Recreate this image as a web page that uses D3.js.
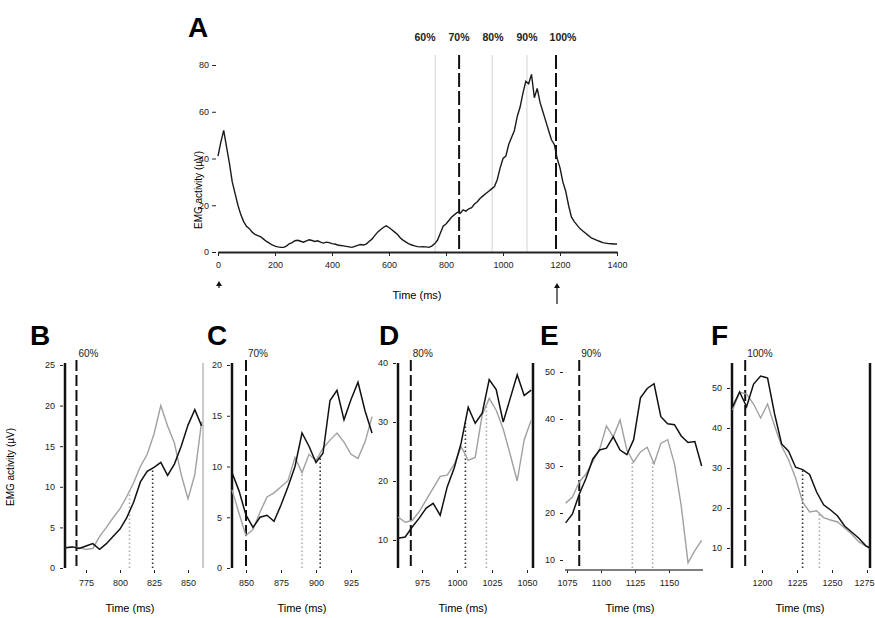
<!DOCTYPE html>
<html>
<head>
<meta charset="utf-8">
<script src="https://cdn.jsdelivr.net/npm/d3@7"></script>
<style>
  body { margin: 0; background: #fff; }
  svg { display: block; font-family: "Liberation Sans", Arial, sans-serif; }
  .axis text { font-size: 9px; fill: #222; }
  .axis line, .axis path { stroke: #222; }
</style>
</head>
<body>
<div id="chart"></div>
<script>
// ---- data: panel A (mean EMG over the whole movement) ----
const timeA = [0,10,20,30,40,50,60,70,80,90,100,110,120,130,140,150,160,170,180,190,
  200,210,220,230,240,250,260,270,280,290,300,310,320,330,340,350,360,370,380,390,
  400,410,420,430,440,450,460,470,480,490,500,510,520,530,540,550,560,570,580,590,
  600,610,620,630,640,650,660,670,680,690,700,710,720,730,740,750,760,770,780,790,
  800,810,820,830,840,850,860,870,880,890,900,910,920,930,940,950,960,970,980,990,
  1000,1010,1020,1030,1040,1050,1060,1070,1080,1090,1100,1110,1120,1130,1140,1150,1160,1170,1180,1190,
  1200,1210,1220,1230,1240,1250,1260,1270,1280,1290,1300,1310,1320,1330,1340,1350,1360,1370,1380,1390,1400];
const emgA = [41,47,52,45,38,30,25,20,16,13,11,10,8.5,7.5,7,6.5,5.5,4.5,3.8,3,
  2.5,2.2,2,2,2.5,3.5,4,4.8,5,4.6,4.2,4.8,5.2,4.9,4.5,4.8,4.2,3.8,4.2,4,
  3.6,3.4,3,2.8,2.6,2.4,2.2,2,2.4,2.8,3.2,3,3.4,4.5,5.5,7,8.5,9.5,10.5,11.2,
  10.5,9.5,8.5,7.5,6,5,4.2,3.5,3,2.6,2.3,2.2,2.3,2.2,2,2.5,3.5,5,8,11,
  12,13.5,15,16,17,16.5,18,17.5,18.5,19,20.5,21.5,23,24,25,26,27,28,31,36,
  40,41,46,49,52,58,62,68,73,72,76,66,70,64,60,56,52,48,46,40,
  36,30,26,20,15,13,11.5,10,9,8,7,6,5.5,5,4.5,4,3.8,3.6,3.5,3.4,3.4];
const xTicksA = [0,200,400,600,800,1000,1200,1400];
const yTicksA = [0,20,40,60,80];
const pctLabels = ["60%","70%","80%","90%","100%"];
const pctTimesA = [762,846,962,1084,1186];
const pctStyleA = ["light","dash","light","light","dash"];

// ---- data: panels B-F (zoomed windows, two traces) ----
const timeB  = [760,765,770,775,780,785,790,795,800,805,810,815,820,825,830,835,840,845,850,855,860];
const blackB = [2.5,2.6,2.4,2.7,3.0,2.3,3.0,3.9,4.8,6.2,8.1,10.6,11.9,12.4,13.0,11.4,12.8,15.0,17.6,19.5,17.5];
const greyB  = [2.5,2.6,2.5,2.3,2.4,3.9,5.0,6.2,7.3,8.8,10.5,12.5,14.0,16.5,20.0,17.5,15.4,11.5,8.5,11.5,18.0];

const timeC  = [840,845,850,855,860,865,870,875,880,885,890,895,900,905,910,915,920,925,930,935,940];
const blackC = [9.4,7.6,5.2,4.0,5.0,5.2,4.6,6.2,8.0,10.0,13.3,12.0,10.4,11.3,16.5,17.5,14.6,16.6,18.3,15.5,13.3];
const greyC  = [7.7,5.4,3.2,3.8,5.5,7.0,7.4,8.0,8.6,10.9,9.4,11.2,10.6,11.8,12.6,13.3,12.4,11.2,10.8,12.4,14.9];

const timeD  = [958,963,968,973,978,983,988,993,998,1003,1008,1013,1018,1023,1028,1033,1038,1043,1048,1053];
const blackD = [10.3,10.5,12.2,13.7,15.4,16.2,14.2,19.0,22.2,26.5,32.5,29.8,31.5,37.2,35.5,30.0,34.0,38.0,34.5,35.4];
const greyD  = [13.9,13.0,13.3,14.8,16.8,18.8,20.8,21.0,22.8,25.8,23.5,24.0,31.2,34.0,32.0,28.8,24.5,20.0,27.0,30.3];

const timeE  = [1074,1079,1084,1089,1094,1099,1104,1109,1114,1119,1124,1129,1134,1139,1144,1149,1154,1159,1164,1169,1174];
const blackE = [17.9,19.8,24.0,27.4,31.5,33.4,33.8,36.2,33.4,32.4,35.6,44.5,46.5,47.5,40.5,39.0,38.8,36.4,35.0,35.2,30.0];
const greyE  = [22.1,23.4,26.6,28.3,31.0,33.6,38.5,36.2,39.8,33.4,30.8,33.0,34.0,30.5,34.8,35.6,30.5,21.5,9.4,12.0,14.2];

const timeF  = [1179,1184,1189,1194,1199,1204,1209,1214,1219,1224,1229,1234,1239,1244,1249,1254,1259,1264,1269,1274,1277];
const blackF = [45.3,49.0,45.3,51.0,53.0,52.5,43.5,36.0,34.2,30.2,29.6,28.4,24.0,20.8,19.5,18.0,15.5,14.0,12.5,10.6,10.0];
const greyF  = [44.5,49.0,48.5,46.0,42.5,46.0,40.5,35.5,32.0,27.5,21.5,19.0,19.3,17.6,17.0,16.5,15.0,13.5,11.6,10.5,10.0];

const onsetTimes = [768,850,967,1084,1188];
const xTicksB = [775,800,825,850], xTicksC = [850,875,900,925], xTicksD = [975,1000,1025,1050],
      xTicksE = [1075,1100,1125,1150], xTicksF = [1200,1225,1250,1275];
const yTicksB = [0,5,10,15,20,25], yTicksC = [0,5,10,15,20], yTicksD = [10,20,30,40],
      yTicksE = [10,20,30,40,50], yTicksF = [10,20,30,40,50];
const marksB = [{t:807,s:"grey"},{t:824,s:"black"}];
const marksC = [{t:890,s:"grey"},{t:903,s:"black"}];
const marksD = [{t:1006,s:"black"},{t:1021,s:"grey"}];
const marksE = [{t:1123,s:"grey"},{t:1138,s:"grey"}];
const marksF = [{t:1229,s:"black"},{t:1241,s:"grey"}];

const W = 875, H = 618;
const svg = d3.select("#chart").append("svg").attr("width", W).attr("height", H);
const fmt = d3.format("d");

function valAt(ts, vs, t) {
  const i = Math.max(1, Math.min(ts.length - 1, d3.bisectLeft(ts, t)));
  const f = (t - ts[i-1]) / (ts[i] - ts[i-1]);
  return vs[i-1] + f * (vs[i] - vs[i-1]);
}

// ================= Panel A =================
const xA = d3.scaleLinear().domain([0, 1400]).range([218, 617]);
const yA = d3.scaleLinear().domain([0, 80]).range([252, 65]);
const gA = svg.append("g");

svg.append("text").attr("x", 188).attr("y", 37).attr("font-size", 28).attr("font-weight", "bold").text("A");

const pctLabelX = [425, 459, 493, 527, 563];
pctTimesA.forEach((t, i) => {
  const dash = pctStyleA[i] === "dash";
  gA.append("line").attr("x1", xA(t)).attr("x2", xA(t)).attr("y1", 55).attr("y2", 252)
    .attr("stroke", dash ? "#111" : "#d4d4d4").attr("stroke-width", dash ? 2 : 1)
    .attr("stroke-dasharray", dash ? "14,4" : null);
  gA.append("text").attr("x", pctLabelX[i]).attr("y", 41).attr("text-anchor", "middle")
    .attr("font-size", 10.5).attr("font-weight", "bold").attr("fill", "#222").text(pctLabels[i]);
});

gA.append("path").datum(timeA.map((t, i) => [t, emgA[i]]))
  .attr("fill", "none").attr("stroke", "#1a1a1a").attr("stroke-width", 1.4)
  .attr("d", d3.line().x(d => xA(d[0])).y(d => yA(d[1])));

const axA = gA.append("g").attr("class", "axis").attr("transform", "translate(0,252)")
  .call(d3.axisBottom(xA).tickValues(xTicksA).tickFormat(fmt).tickSize(4).tickSizeOuter(0).tickPadding(6));
axA.select(".domain").attr("stroke-width", 2);
const ayA = gA.append("g").attr("class", "axis").attr("transform", "translate(216,0)")
  .call(d3.axisLeft(yA).tickValues(yTicksA).tickSize(4).tickPadding(3));
ayA.select(".domain").remove();

gA.append("text").attr("x", 417).attr("y", 299).attr("text-anchor", "middle").attr("font-size", 11).text("Time (ms)");
gA.append("text").attr("transform", "translate(202,190) rotate(-90)").attr("text-anchor", "middle")
  .attr("font-size", 10).text("EMG activity (µV)");

// small arrows under the time axis
[[219, 281, 288], [557, 283, 304]].forEach(([x, y0, y1]) => {
  gA.append("line").attr("x1", x).attr("x2", x).attr("y1", y0 + 3).attr("y2", y1).attr("stroke", "#111").attr("stroke-width", 1.2);
  gA.append("path").attr("d", `M${x-3},${y0+5}L${x},${y0}L${x+3},${y0+5}Z`).attr("fill", "#111");
});

// ================= Panels B-F =================
const panels = [
  { letter: "B", t: timeB, black: blackB, grey: greyB, onset: onsetTimes[0], pct: pctLabels[0],
    xTicks: xTicksB, yTicks: yTicksB, marks: marksB,
    xd: [775, 850], xr: [86, 188], yd: [0, 25], yr: [568, 365],
    left: 65, right: 203, leftSpine: "#111", rightSpine: "#bbb", letterX: 30, titleX: 130, baseline: false, yTitle: true },
  { letter: "C", t: timeC, black: blackC, grey: greyC, onset: onsetTimes[1], pct: pctLabels[1],
    xTicks: xTicksC, yTicks: yTicksC, marks: marksC,
    xd: [850, 925], xr: [246, 351], yd: [0, 20], yr: [568, 365],
    left: 232, right: 372, leftSpine: "#111", rightSpine: null, letterX: 207, titleX: 302, baseline: false },
  { letter: "D", t: timeD, black: blackD, grey: greyD, onset: onsetTimes[2], pct: pctLabels[2],
    xTicks: xTicksD, yTicks: yTicksD, marks: marksD,
    xd: [975, 1050], xr: [422, 527], yd: [10, 40], yr: [540, 363],
    left: 398, right: 533, leftSpine: "#111", rightSpine: "#111", letterX: 379, titleX: 463, baseline: false },
  { letter: "E", t: timeE, black: blackE, grey: greyE, onset: onsetTimes[3], pct: pctLabels[3],
    xTicks: xTicksE, yTicks: yTicksE, marks: marksE,
    xd: [1075, 1150], xr: [567, 669], yd: [10, 50], yr: [560, 372],
    left: 565, right: 703, leftSpine: null, rightSpine: null, letterX: 540, titleX: 630, baseline: true },
  { letter: "F", t: timeF, black: blackF, grey: greyF, onset: onsetTimes[4], pct: pctLabels[4],
    xTicks: xTicksF, yTicks: yTicksF, marks: marksF,
    xd: [1200, 1275], xr: [762, 867], yd: [10, 50], yr: [548, 388],
    left: 732, right: 870, leftSpine: "#111", rightSpine: "#111", letterX: 711, titleX: 800, baseline: false }
];

const TOP = 363, BOT = 568;

panels.forEach(p => {
  const g = svg.append("g");
  const x = d3.scaleLinear().domain(p.xd).range(p.xr);
  const y = d3.scaleLinear().domain(p.yd).range(p.yr);

  g.append("text").attr("x", p.letterX).attr("y", 345).attr("font-size", 28).attr("font-weight", "bold").text(p.letter);

  if (p.leftSpine) g.append("line").attr("x1", p.left).attr("x2", p.left).attr("y1", TOP).attr("y2", BOT)
    .attr("stroke", p.leftSpine).attr("stroke-width", 2.5);
  if (p.rightSpine) g.append("line").attr("x1", p.right).attr("x2", p.right).attr("y1", TOP).attr("y2", BOT)
    .attr("stroke", p.rightSpine).attr("stroke-width", p.rightSpine === "#111" ? 2.5 : 1.5);

  // onset dashed line + label
  g.append("line").attr("x1", x(p.onset)).attr("x2", x(p.onset)).attr("y1", 360).attr("y2", BOT)
    .attr("stroke", "#111").attr("stroke-width", 2).attr("stroke-dasharray", "11,4");
  g.append("text").attr("x", x(p.onset) + 2).attr("y", 357).attr("font-size", 10).attr("fill", "#222").text(p.pct);

  // dotted markers
  p.marks.forEach(m => {
    const v = valAt(p.t, p[m.s], m.t);
    g.append("line").attr("x1", x(m.t)).attr("x2", x(m.t)).attr("y1", BOT).attr("y2", y(v))
      .attr("stroke", m.s === "black" ? "#333" : "#aaa").attr("stroke-width", 1.6)
      .attr("stroke-dasharray", "1.5,2.5");
  });

  const line = d3.line().x((d, i) => x(p.t[i])).y(d => y(d));
  g.append("path").datum(p.grey).attr("fill", "none").attr("stroke", "#a0a0a0").attr("stroke-width", 1.4).attr("d", line);
  g.append("path").datum(p.black).attr("fill", "none").attr("stroke", "#111").attr("stroke-width", 1.5).attr("d", line);

  // axes
  const ax = g.append("g").attr("class", "axis").attr("transform", "translate(0,570)")
    .call(d3.axisBottom(x).tickValues(p.xTicks).tickFormat(fmt).tickSize(3).tickSizeOuter(0).tickPadding(7));
  ax.select(".domain").remove();
  // keep the last label of the right-most panel inside the picture
  ax.selectAll(".tick text").filter(d => x(d) + 12 > W).attr("text-anchor", "end").attr("dx", 7);
  if (p.baseline) {
    g.append("line").attr("x1", p.left).attr("x2", p.right).attr("y1", 570).attr("y2", 570)
      .attr("stroke", "#555").attr("stroke-width", 1.5);
  }
  const ay = g.append("g").attr("class", "axis").attr("transform", `translate(${p.left - 2},0)`)
    .call(d3.axisLeft(y).tickValues(p.yTicks).tickSize(3).tickPadding(5));
  ay.select(".domain").remove();

  g.append("text").attr("x", p.titleX).attr("y", 612).attr("text-anchor", "middle").attr("font-size", 11).text("Time (ms)");
  if (p.yTitle) g.append("text").attr("transform", "translate(14,467) rotate(-90)").attr("text-anchor", "middle")
    .attr("font-size", 10).text("EMG activity (µV)");
});
</script>
</body>
</html>
